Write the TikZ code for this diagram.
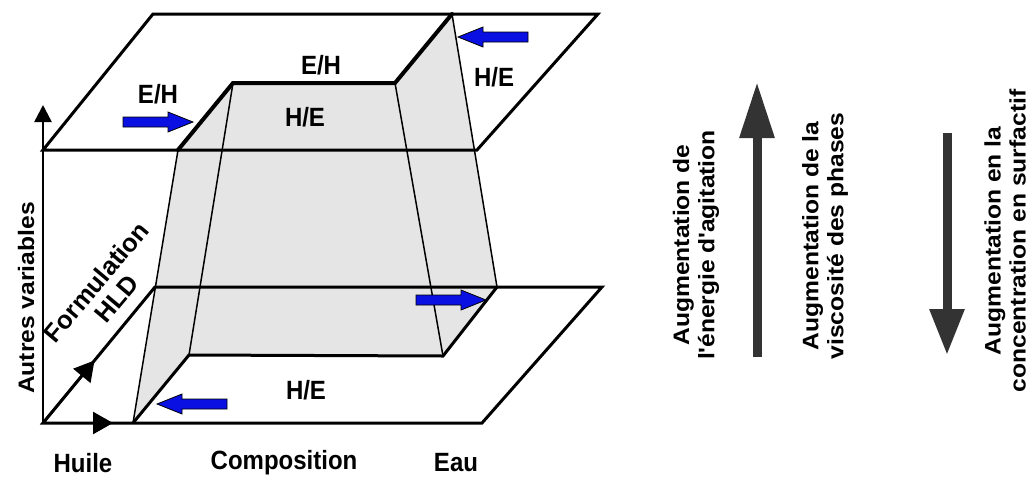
\documentclass[tikz,border=0pt]{standalone}
\usepackage{fontspec}
\setmainfont{Liberation Sans}
\newfontfamily\tallfont{Liberation Sans}[FakeStretch=0.909]
\newfontfamily\widefont{Liberation Sans}[FakeStretch=1.1]
\usetikzlibrary{arrows.meta,calc}
\begin{document}
\begin{tikzpicture}[x=1pt,y=-1pt,
  lab/.style={font=\tallfont\fontsize{26.4}{28}\selectfont\bfseries, inner sep=0pt},
  rlab/.style={font=\widefont\fontsize{22.4}{25}\selectfont\bfseries, inner sep=0pt, align=center, rotate=90},
  planeline/.style={line width=3pt, line join=miter},
  crest/.style={line width=4pt, line join=miter},
  edgeline/.style={line width=1.5pt},
  axisline/.style={line width=2.5pt},
  grayarrow/.style={line width=9pt, draw={rgb,255:red,51;green,51;blue,51}},
  barrow/.pic={\filldraw[fill={rgb,255:red,10;green,16;blue,225}, draw=black, line width=0.8pt, line join=miter]
     (0,-5) -- (45,-5) -- (45,-10) -- (70,0) -- (45,10) -- (45,5) -- (0,5) -- cycle;}
]
\useasboundingbox (0,0) rectangle (1031,477);
% key points
\coordinate (O) at (43,423);
\coordinate (T1) at (43,150);
\coordinate (T2) at (153,14);
\coordinate (T3) at (598,14);
\coordinate (T4) at (477,150);
\coordinate (P2) at (155,287);
\coordinate (P3) at (602,287);
\coordinate (P4) at (482,423);
\coordinate (A1) at (178,150);
\coordinate (B1) at (233,83);
\coordinate (C1) at (395,83);
\coordinate (D1) at (452,14);
\coordinate (A2) at (133,423);
\coordinate (B2) at (189,355);
\coordinate (C2) at (443,356);
\coordinate (D2) at (497,287);
\coordinate (VT) at (43,105);
\coordinate (HT) at (113,423);
\coordinate (ST) at ($(O)!0.46!(P2)$);
% gray surface
\fill[black!10] (A1) -- (B1) -- (C1) -- (D1) -- (D2) -- (C2) -- (B2) -- (A2) -- cycle;
\draw[edgeline] (A1) -- (A2) (B1) -- (B2) (C1) -- (C2) (D1) -- (D2);
% planes
\draw[planeline] (T1) -- (T2) -- (T3) -- (T4) -- cycle;
\draw[planeline] (O) -- (P2) -- (P3) -- (P4) -- cycle;
% crests
\draw[crest, line cap=round] (A1) -- (B1) -- (C1) -- (D1);
\draw[line width=3pt, line join=miter] (A2) -- (B2) -- (C2) -- (D2);
% axes
\draw[axisline, -{Triangle[length=17pt,width=17pt]}] (T1) -- (VT);
\draw[axisline] (O) -- (T1);
\draw[axisline, -{Triangle[length=20pt,width=22pt]}] (O) -- (HT);
\draw[axisline, -{Triangle[length=20pt,width=22pt]}] (O) -- (ST);
% blue arrows
\pic at (123,122) {barrow};
\pic at (416,300) {barrow};
\pic[xscale=-1] at (528,37) {barrow};
\pic[xscale=-1] at (227,404) {barrow};
% labels
\node[lab] (eh1) at (158,94) {E/H};
\node[lab] (eh2) at (321,65) {E/H};
\node[lab] (he1) at (305,117) {H/E};
\node[lab] (he2) at (494,77) {H/E};
\node[lab] (he3) at (306,390) {H/E};
\node[lab] (huile) at (83,463) {Huile};
\node[lab] (compo) at (284,463) {Composition};
\node[lab] (eau) at (456,463) {Eau};
\node[rlab] (autres) at (26,298) {Autres variables};
\node[rotate=50, align=center, inner sep=0pt, font=\fontsize{25.5}{26}\selectfont\bfseries] (hld) at (106,290) {Formulation\\HLD};
% right side
\coordinate (U1) at (757,357);
\coordinate (U2) at (757,82);
\coordinate (W1) at (947,133);
\coordinate (W2) at (947,355);
\draw[grayarrow, -{Triangle[length=56pt,width=33pt]}, fill={rgb,255:red,51;green,51;blue,51}] (U1) -- (U2);
\draw[grayarrow, -{Triangle[length=46pt,width=33pt]}, fill={rgb,255:red,51;green,51;blue,51}] (W1) -- (W2);
\node[rlab] (t1) at (696,245) {Augmentation de\\l\textquotesingle énergie d\textquotesingle agitation};
\node[rlab] (t2) at (825,236) {Augmentation de la\\viscosité des phases};
\node[rlab] (t3) at (1005,241) {Augmentation en la\\concentration en surfactif};
\end{tikzpicture}
\end{document}
